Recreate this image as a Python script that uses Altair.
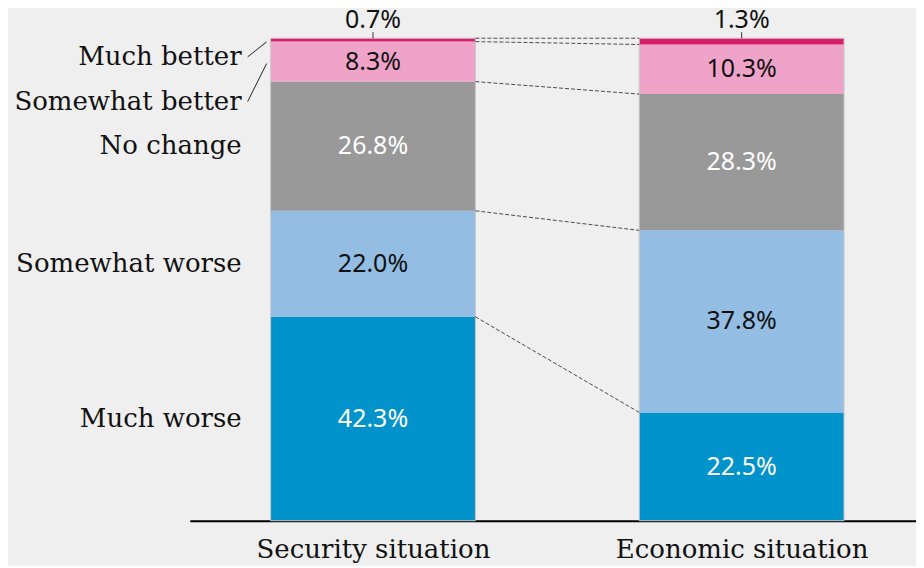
import altair as alt
import pandas as pd

categories = ["Much worse", "Somewhat worse", "No change", "Somewhat better", "Much better"]
bars = ["Security situation", "Economic situation"]
security = [42.3, 22.0, 26.8, 8.3, 0.7]
economic = [22.5, 37.8, 28.3, 10.3, 1.3]
colors = ["#0093cb", "#93bde3", "#999999", "#f0a3c8", "#d81d6a"]

HALF = 0.2778  # half bar width in x units
SERIF = "DejaVu Serif"
SANS = "Noto Sans"
VFS = 25

rows = []
for bi, (bname, vals) in enumerate(zip(bars, [security, economic])):
    total = sum(vals)
    acc = 0.0
    for ci, (cat, v) in enumerate(zip(categories, vals)):
        y0 = acc / total * 100
        acc += v
        y1 = acc / total * 100
        rows.append(dict(bar=bname, pos=bi, left=bi - HALF, right=bi + HALF,
                         cat=cat, order=ci, value=v, y0=y0, y1=y1,
                         mid=(y0 + y1) / 2, label=f"{v:.1f}%"))
df = pd.DataFrame(rows)

# connectors between boundaries
conn = []
sec = df[df.pos == 0].reset_index(drop=True)
eco = df[df.pos == 1].reset_index(drop=True)
for i in range(len(categories)):
    conn.append(dict(xa=0 + HALF, xb=1 - HALF, ya=sec.y1[i], yb=eco.y1[i]))
conn_df = pd.DataFrame(conn)

xscale = alt.Scale(domain=[-0.497, 1.473], nice=False, zero=False)
yscale = alt.Scale(domain=[0, 106.2], nice=False, zero=False)

label_expr = "datum.value == 0 ? '%s' : '%s'" % (bars[0], bars[1])

base = alt.Chart(df)

seg = base.mark_bar().encode(
    x=alt.X("left:Q", scale=xscale,
            axis=alt.Axis(values=[0, 1], labelExpr=label_expr, title=None, grid=False,
                          ticks=False, domainColor="#000000", domainWidth=2,
                          labelFont=SERIF, labelFontSize=26, labelColor="#111111",
                          labelPadding=16, labelLimit=600)),
    x2="right:Q",
    y=alt.Y("y0:Q", scale=yscale, axis=None),
    y2="y1:Q",
    color=alt.Color("cat:N", scale=alt.Scale(domain=categories, range=colors), legend=None),
)

outline = alt.Chart(df).transform_aggregate(
    y0="min(y0)", y1="max(y1)", left="min(left)", right="max(right)", groupby=["bar"]
).mark_bar(filled=False, stroke="#c8c8c8", strokeWidth=1).encode(
    x=alt.X("left:Q", scale=xscale), x2="right:Q",
    y=alt.Y("y0:Q", scale=yscale), y2="y1:Q",
)

connectors = alt.Chart(conn_df).mark_rule(strokeDash=[4, 2], color="#4a4a4a", strokeWidth=1).encode(
    x=alt.X("xa:Q", scale=xscale), x2="xb:Q",
    y=alt.Y("ya:Q", scale=yscale), y2="yb:Q",
)

inside = base.transform_filter(alt.datum.cat != categories[4])
dark_txt = inside.transform_filter(
    (alt.datum.cat == categories[0]) | (alt.datum.cat == categories[2])
).mark_text(font=SANS, fontSize=VFS, color="white", baseline="middle").encode(
    x=alt.X("pos:Q", scale=xscale), y=alt.Y("mid:Q", scale=yscale), text="label:N")
light_txt = inside.transform_filter(
    (alt.datum.cat == categories[1]) | (alt.datum.cat == categories[3])
).mark_text(font=SANS, fontSize=VFS, color="#111111", baseline="middle").encode(
    x=alt.X("pos:Q", scale=xscale), y=alt.Y("mid:Q", scale=yscale), text="label:N")

top = base.transform_filter(alt.datum.cat == categories[4])
top_txt = top.mark_text(font=SANS, fontSize=VFS, color="#111111", baseline="middle", dy=-18).encode(
    x=alt.X("pos:Q", scale=xscale), y=alt.Y("y1:Q", scale=yscale), text="label:N")
top_tick = top.mark_rule(color="#333333", strokeWidth=1, yOffset=-6).encode(
    x=alt.X("pos:Q", scale=xscale), y=alt.Y("y1:Q", scale=yscale), y2="y1:Q")

sec_base = base.transform_filter(alt.datum.pos == 0)
cat_main = sec_base.transform_filter(
    (alt.datum.order <= 2)
).mark_text(font=SERIF, fontSize=26, color="#111111", align="right", baseline="middle", dx=-29).encode(
    x=alt.X("left:Q", scale=xscale), y=alt.Y("mid:Q", scale=yscale), text="cat:N")
cat_mb = sec_base.transform_filter(alt.datum.order == 4).mark_text(
    font=SERIF, fontSize=26, color="#111111", align="right", baseline="middle", dx=-29, dy=17).encode(
    x=alt.X("left:Q", scale=xscale), y=alt.Y("mid:Q", scale=yscale), text="cat:N")
cat_sb = sec_base.transform_filter(alt.datum.order == 3).mark_text(
    font=SERIF, fontSize=26, color="#111111", align="right", baseline="middle", dx=-29, dy=40).encode(
    x=alt.X("left:Q", scale=xscale), y=alt.Y("mid:Q", scale=yscale), text="cat:N")

lead_mb = sec_base.transform_filter(alt.datum.order == 4).mark_rule(
    color="#222222", strokeWidth=1, xOffset=-23, x2Offset=-4, yOffset=17, y2Offset=2).encode(
    x=alt.X("left:Q", scale=xscale), x2="left:Q", y=alt.Y("mid:Q", scale=yscale), y2="mid:Q")
lead_sb = sec_base.transform_filter(alt.datum.order == 3).mark_rule(
    color="#222222", strokeWidth=1, xOffset=-23, x2Offset=-4, yOffset=40, y2Offset=2).encode(
    x=alt.X("left:Q", scale=xscale), x2="left:Q", y=alt.Y("mid:Q", scale=yscale), y2="mid:Q")

chart = alt.layer(
    seg, outline, connectors, dark_txt, light_txt, top_txt, top_tick,
    cat_main, cat_mb, cat_sb, lead_mb, lead_sb
).properties(
    width=727, height=513,
    autosize=alt.AutoSizeParams(type="none"),
    padding={"left": 182, "top": 0, "right": 0, "bottom": 45},
    background="#efefef",
).configure_view(stroke=None)

chart.save("out.html", embed_options={"renderer": "svg", "actions": False})
